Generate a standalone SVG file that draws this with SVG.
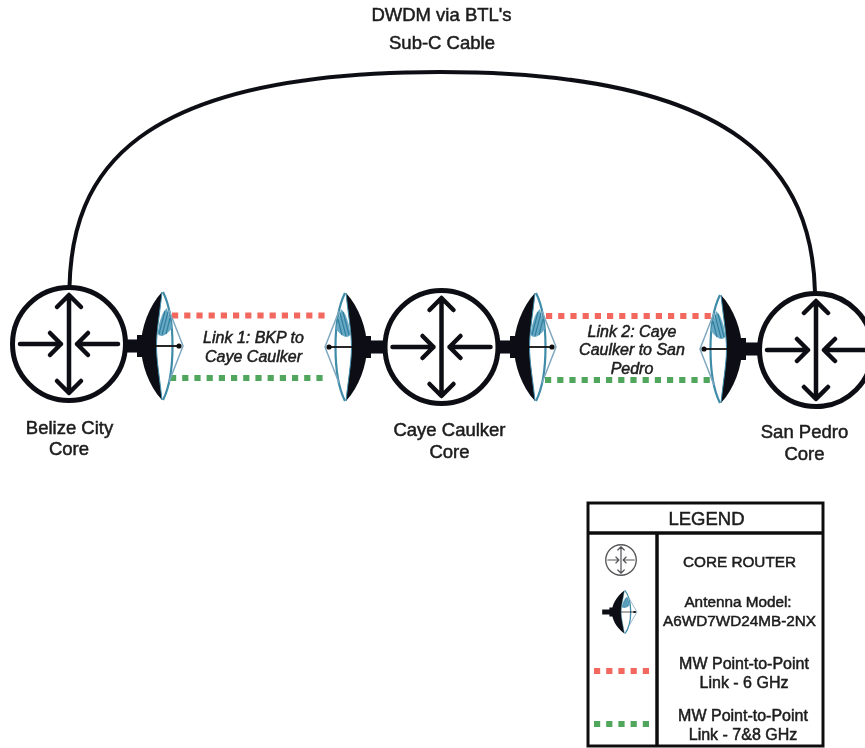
<svg xmlns="http://www.w3.org/2000/svg" width="865" height="748" viewBox="0 0 865 748">
<style>
text{font-family:"Liberation Sans",Arial,sans-serif;fill:#1c1c1c;text-anchor:middle;stroke:#1c1c1c;stroke-width:.5}
.lbl{font-size:18.500px}
.lnk{font-size:16px;font-style:italic}
.leg{font-size:15.300px}
.leg2{font-size:16px}
.red{stroke:#f2685f;stroke-width:6;stroke-dasharray:6.2 6;fill:none}
.grn{stroke:#4fa65b;stroke-width:6;stroke-dasharray:6.2 6;fill:none}
.rt{fill:none;stroke:#0d0d12;stroke-linecap:round;stroke-linejoin:round}
.ring{stroke-width:5}
.arr{stroke-width:4.500}
</style>
<defs>
<filter id="soft" filterUnits="userSpaceOnUse" x="0" y="0" width="865" height="748"><feGaussianBlur stdDeviation="0.45"/></filter>
<g id="router">
<circle class="rt ring" r="56.500"/>
<path class="rt arr" d="M0,-48V48M-12,-37L0,-49L12,-37M-12,37L0,49L12,37M-49,0H-8M-19,-11L-8,0L-19,11M49,0H8M19,-11L8,0L19,11"/>
</g>
<g id="antenna">
<path d="M-38,-6.500H-26V-11H-20V11H-26V6.500H-38Z" fill="#0b0d14"/>
<path d="M-1,-54C-14,-40 -22,-18 -22,0C-22,18 -14,40 -1,54C-3,34 -6.500,15 -6.500,0C-6.500,-15 -3,-34 -1,-54Z" fill="#0b0d14"/>
<path d="M0,-54C7,-40 9.500,-18 9.500,0C9.500,18 7,40 0,54" fill="none" stroke="#3f8ca8" stroke-width="2.200"/>
<path d="M-1,-54C-3,-34 -6.500,-15 -6.500,0C-6.500,15 -3,34 -1,54" fill="none" stroke="#3f8ca8" stroke-width="1"/>
<path d="M6,-36L20,0L6,36" fill="none" stroke="#7fa8c0" stroke-width="1.500"/>
<path d="M-5.500,-12C-4,-26 0,-35 4,-38L9,-18C3,-10 -2,-8 -5.500,-12Z" fill="#6aa9c4"/>
<path d="M-4,-12L2,-35M-1,-11L5,-34M3,-12L7,-28" stroke="#2f7f9f" stroke-width="1.200" fill="none"/>
<path d="M-12,0H18" stroke="#111" stroke-width="1.800"/>
<circle cx="16" r="2.600" fill="#111"/>
</g>
</defs>

<g filter="url(#soft)">
<g id="connectors">
<path d="M69.500,287C72,175 130,72 440,72C745,72 812,175 815,292" fill="none" stroke="#0d0d12" stroke-width="4"/>
<path class="red" d="M172,315.500H326"/>
<path class="grn" d="M170,378H326"/>
<path class="red" d="M546,316H712"/>
<path class="grn" d="M545,380H712"/>
</g>

<text class="lbl" x="441.500" y="21">DWDM via BTL's</text>
<text class="lbl" x="442" y="49">Sub-C Cable</text>

<g id="belize-core"><use href="#router" x="69" y="344"/>
<text class="lbl" x="69.500" y="434">Belize City</text><text class="lbl" x="69" y="455">Core</text></g>
<g id="caye-core"><use href="#router" x="441.500" y="347"/>
<text class="lbl" x="449.500" y="436">Caye Caulker</text><text class="lbl" x="449.500" y="458">Core</text></g>
<g id="sanpedro-core"><use href="#router" x="816" y="350"/>
<text class="lbl" x="804.500" y="438">San Pedro</text><text class="lbl" x="804.500" y="460">Core</text></g>

<g id="antenna-1"><use href="#antenna" transform="translate(163,346)"/></g>
<g id="antenna-2"><use href="#antenna" transform="translate(345,347) scale(-1,1)"/></g>
<g id="antenna-3"><use href="#antenna" transform="translate(536,347)"/></g>
<g id="antenna-4"><use href="#antenna" transform="translate(720,349) scale(-1,1)"/></g>

<g id="link-1-label">
<text class="lnk" x="253.500" y="343">Link 1: BKP to</text>
<text class="lnk" x="253.500" y="362">Caye Caulker</text></g>
<g id="link-2-label">
<text class="lnk" x="632" y="337">Link 2: Caye</text>
<text class="lnk" x="632" y="355">Caulker to San</text>
<text class="lnk" x="632" y="374">Pedro</text></g>

<g id="legend">
<rect x="588" y="503" width="235" height="243" fill="#fff" stroke="#111" stroke-width="3"/>
<path d="M588,533H823M657,533V746" stroke="#111" stroke-width="3.500" fill="none"/>
<text x="706.500" y="525" style="font-size:18.500px">LEGEND</text>
<g transform="translate(621,560) scale(.27)" opacity=".7"><use href="#router"/></g>
<text class="leg" x="739.500" y="567">CORE ROUTER</text>
<g transform="translate(625,612) scale(.6,.4)"><use href="#antenna"/></g>
<text class="leg" x="738" y="607">Antenna Model:</text>
<text class="leg" x="739.500" y="626">A6WD7WD24MB-2NX</text>
<path class="red" d="M594,671H649"/>
<text class="leg2" x="744" y="669">MW Point-to-Point</text>
<text class="leg2" x="744" y="688">Link - 6 GHz</text>
<path class="grn" d="M594,724H649"/>
<text class="leg2" x="743" y="721">MW Point-to-Point</text>
<text class="leg2" x="743" y="740">Link - 7&amp;8 GHz</text>
</g>
</g>
</svg>
